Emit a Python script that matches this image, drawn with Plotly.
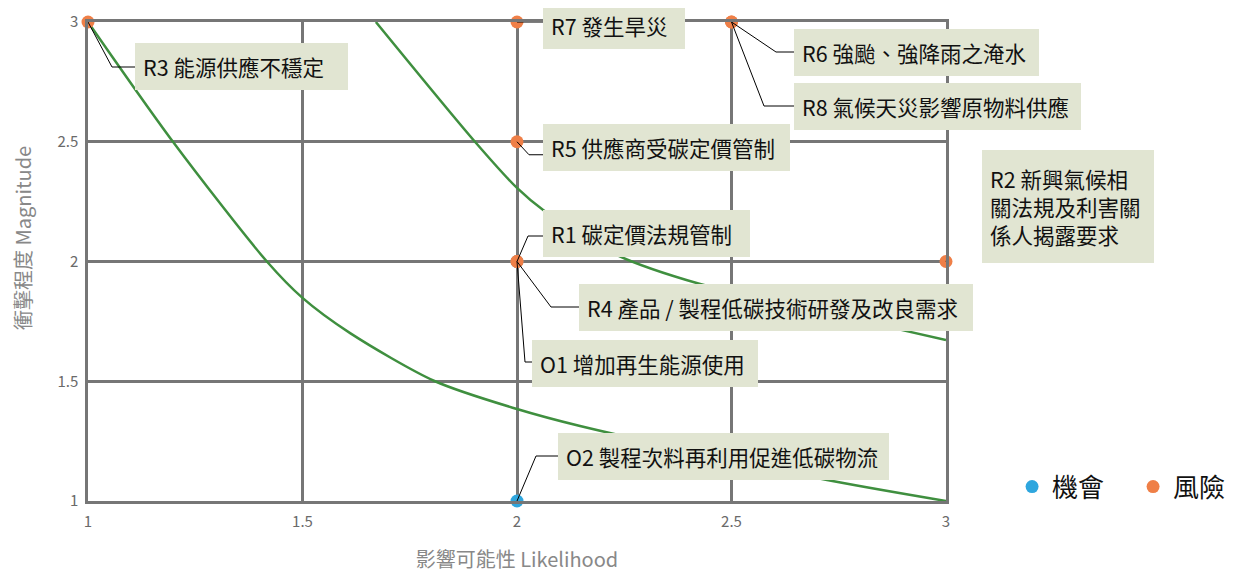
import plotly.graph_objects as go

FONT = "Noto Sans CJK TC"
ORANGE = "#EF7F47"
BLUE = "#2EA6DE"
GREEN = "#3F8F3F"
GRID = "#767676"
BOX = "#E1E5D2"

# risk / opportunity points
opp_labels = ["O1 增加再生能源使用", "O2 製程次料再利用促進低碳物流"]
opp_x = [2, 2]
opp_y = [2, 1]

risk_labels = [
    "R1 碳定價法規管制",
    "R2 新興氣候相<br>關法規及利害關<br>係人揭露要求",
    "R3 能源供應不穩定",
    "R4 產品 / 製程低碳技術研發及改良需求",
    "R5 供應商受碳定價管制",
    "R6 強颱、強降雨之淹水",
    "R7 發生旱災",
    "R8 氣候天災影響原物料供應",
]
risk_x = [2, 3, 1, 2, 2, 2.5, 2, 2.5]
risk_y = [2, 2, 3, 2, 2.5, 3, 3, 3]

# threshold curves
low_x = [1, 1.198, 1.417, 1.5, 1.611, 1.809, 2.0, 2.147, 2.699, 3]
low_y = [3, 2.5, 2.0, 1.848, 1.701, 1.5, 1.384, 1.313, 1.096, 1]
high_x = [1.671, 1.902, 2.0, 2.061, 2.233, 2.427, 2.87, 3]
high_y = [3, 2.5, 2.307, 2.215, 2.027, 1.906, 1.725, 1.672]

# label placement: box offset (px), box width, leader elbow (px, screen down)
PLACE = {
    "R1": dict(dx=26, dy=-28, w=191, elbow=(11, -25.5)),
    "R2": dict(dx=36, dy=-55, w=156, h=97, elbow=(25, -58.5)),
    "R3": dict(dx=47, dy=44, w=197, elbow=(24, 45)),
    "R4": dict(dx=62, dy=45.5, w=378, elbow=(34, 45.5)),
    "R5": dict(dx=26, dy=6, w=231, elbow=(12, 13)),
    "R6": dict(dx=62.5, dy=30, w=229, elbow=(44.5, 30)),
    "R7": dict(dx=26, dy=3, w=126, elbow=(13, 0)),
    "R8": dict(dx=62.5, dy=84, w=271, elbow=(32.5, 84)),
    "O1": dict(dx=15, dy=102, w=210, elbow=(8, 100.5)),
    "O2": dict(dx=41, dy=-44.5, w=315, elbow=(19, -45)),
}

fig = go.Figure()
for cx, cy in [(low_x, low_y), (high_x, high_y)]:
    fig.add_trace(go.Scatter(x=cx, y=cy, mode="lines", showlegend=False,
                             hoverinfo="skip",
                             line=dict(color=GREEN, width=2.5, shape="spline", smoothing=0.8)))

fig.add_trace(go.Scatter(x=opp_x, y=opp_y, mode="markers", name="機會", text=opp_labels,
                         marker=dict(color=BLUE, size=13), cliponaxis=False))
fig.add_trace(go.Scatter(x=risk_x, y=risk_y, mode="markers", name="風險", text=risk_labels,
                         marker=dict(color=ORANGE, size=13), cliponaxis=False))

for labels, xs, ys in [(opp_labels, opp_x, opp_y), (risk_labels, risk_x, risk_y)]:
    for lab, px_, py_ in zip(labels, xs, ys):
        p = PLACE[lab[:2]]
        ex, ey = p["elbow"]
        fig.add_shape(type="path", xref="x", yref="y", xsizemode="pixel", ysizemode="pixel",
                      xanchor=px_, yanchor=py_,
                      path=f"M0,0 L{ex},{-ey} L{p['dx']},{-ey}",
                      line=dict(color="black", width=1))
        fig.add_annotation(x=px_, y=py_, xref="x", yref="y", text=lab, showarrow=False,
                           xanchor="left", yanchor="middle", xshift=p["dx"], yshift=-p["dy"],
                           align="left", width=p["w"], height=p.get("h"),
                           bgcolor=BOX, borderpad=8, borderwidth=0,
                           font=dict(family=FONT, size=21.5, color="#111"))

# y title sits a little above the middle of the axis, so it's an annotation
fig.add_annotation(x=-0.077, y=0.549, xref="paper", yref="paper", text="衝擊程度 Magnitude",
                   showarrow=False, textangle=-90, xanchor="center", yanchor="middle",
                   font=dict(family=FONT, size=20, color="#888"))

axis_common = dict(
    range=[1, 3], dtick=0.5, tick0=1, showgrid=True, gridcolor=GRID, gridwidth=2.5,
    showline=True, mirror=True, linecolor=GRID, linewidth=2.5, zeroline=False,
    tickfont=dict(family=FONT, size=15, color="#6a6a6a"), fixedrange=True,
)
fig.update_xaxes(**axis_common, ticklabelstandoff=5,
                 title=dict(text="影響可能性 Likelihood", standoff=24,
                            font=dict(family=FONT, size=20, color="#888")))
fig.update_yaxes(**axis_common, ticklabelstandoff=4)

# the page body adds an 8px offset, so margins are shifted to compensate
fig.update_layout(
    width=1249, height=572,
    margin=dict(l=80, r=311, t=14, b=79, autoexpand=False),
    plot_bgcolor="white", paper_bgcolor="white",
    font=dict(family=FONT),
    legend=dict(orientation="h", x=1.077, xanchor="left", y=0.03, yanchor="middle",
                font=dict(size=26, color="#111"), itemwidth=30,
                entrywidth=76, bgcolor="rgba(0,0,0,0)"),
)

fig.write_html("out.html")
